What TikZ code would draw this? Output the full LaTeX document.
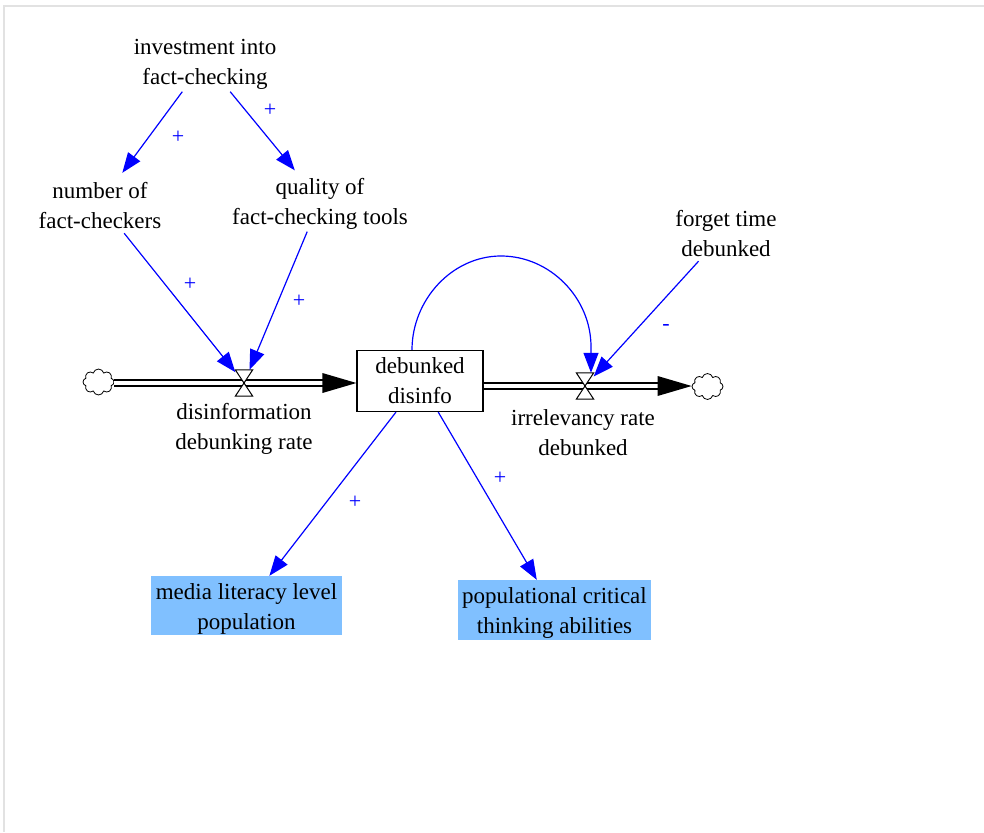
\documentclass[tikz,border=0pt]{standalone}
\usepackage{fontspec}
\setmainfont{Liberation Serif}
\usetikzlibrary{arrows.meta,shapes.symbols}
\definecolor{auxfill}{RGB}{128,192,255}
\definecolor{framegray}{RGB}{226,226,226}
% tall strut that lowers the text block inside fixed-size nodes
\newcommand{\topstrut}{\rule{0pt}{22pt}}
\begin{document}
\begin{tikzpicture}[x=1pt,y=-1pt,
  every node/.style={font=\fontsize{23}{30}\selectfont},
  lbl/.style={align=center, inner sep=2pt, minimum height=60pt},
  stockbox/.style={draw, line width=1.2pt, minimum width=126pt, minimum height=61pt, inner sep=0pt, align=center},
  auxbox/.style={fill=auxfill, align=center, inner sep=0pt},
  valvept/.style={minimum width=17pt, minimum height=26pt, inner sep=0pt},
  valveshape/.style={draw, fill=white, line width=1pt, line join=miter},
  link/.style={blue, line width=1.2pt, -{Triangle[length=20pt,width=15pt]}},
  sign/.style={text=blue, font=\fontsize{22}{24}\selectfont, inner sep=0pt},
  pipe/.style={draw=black, double=white, double distance=3.6pt, line width=1.8pt},
  sourcecloud/.style={cloud, cloud puffs=8, draw, line width=0.8pt, minimum width=31pt, minimum height=26pt, inner sep=0pt, aspect=1.2},
]
\useasboundingbox (0,0) rectangle (984,832);
% outer frame
\draw[framegray, line width=2pt] (3.5,832) -- (3.5,6.5) -- (984,6.5);

% variables
\node[lbl] (invest) at (205,61) {\topstrut investment into\\fact-checking};
\node[lbl] (number) at (100,203) {\topstrut number of\\fact-checkers};
\node[lbl] (quality) at (320,201) {\topstrut quality of\\fact-checking tools};
\node[lbl] (forget) at (726,231) {\topstrut forget time\\debunked};

% stock
\node[stockbox] (stock) at (420,381) {debunked\\disinfo};

% sources / sinks
\node[sourcecloud] (lcloud) at (98.5,382) {};
\node[sourcecloud] (rcloud) at (707.5,386.5) {};

% valves
\node[valvept] (lvalve) at (244,383) {};
\node[valvept] (rvalve) at (585,386) {};

% flow pipes
\draw[pipe, shorten >=22pt] (lcloud.east |- lvalve) -- (stock.west |- lvalve);
\fill (stock.west |- lvalve) -- ++(-34,-10) -- ++(0,20) -- cycle;
\draw[pipe, shorten >=22pt] (stock.east |- rvalve) -- (rcloud.west |- rvalve);
\fill (rcloud.west |- rvalve) -- ++(-34,-10) -- ++(0,20) -- cycle;

% valve symbols
\draw[valveshape] (lvalve.north west) -- (lvalve.north east) -- (lvalve.south west) -- (lvalve.south east) -- cycle;
\draw[valveshape] (rvalve.north west) -- (rvalve.north east) -- (rvalve.south west) -- (rvalve.south east) -- cycle;

% flow labels
\node[lbl] (lrate) at (244,426) {\topstrut disinformation\\debunking rate};
\node[lbl] (rrate) at (583,430) {\topstrut irrelevancy rate\\debunked};

% auxiliary outcomes
\node[auxbox, minimum width=191pt, minimum height=59pt] (media) at (246.5,605.5) {\topstrut media literacy level\\population};
\node[auxbox, minimum width=193pt, minimum height=60pt] (critical) at (554.5,610) {\topstrut populational critical\\thinking abilities};

% causal links
\draw[link] (invest) -- (number);
\draw[link] (invest) -- (quality);
\draw[link] (number) -- (lvalve);
\draw[link] (quality) -- (lvalve);
\draw[link] (forget) -- (rvalve);
% feedback loop from the stock over to the outflow valve
\coordinate (looptop) at (501,256);
\draw[link] ([xshift=-8pt]stock.north) .. controls +(0,-50) and +(-49,0) .. (looptop)
  .. controls +(49,0) and +(0,-49) .. ([xshift=6pt,yshift=26pt]rvalve.north)
  -- ([xshift=6pt]rvalve.north);
\draw[link] (stock) -- (media);
\draw[link] (stock) -- (critical);

% polarities
\node[sign] (s1) at (178,137) {+};
\node[sign] (s2) at (270,110) {+};
\node[sign] (s3) at (190,284) {+};
\node[sign] (s4) at (299,301) {+};
\node[sign] (s5) at (666,327) {-};
\node[sign] (s6) at (355,502) {+};
\node[sign] (s7) at (500,478) {+};
\end{tikzpicture}
\end{document}
